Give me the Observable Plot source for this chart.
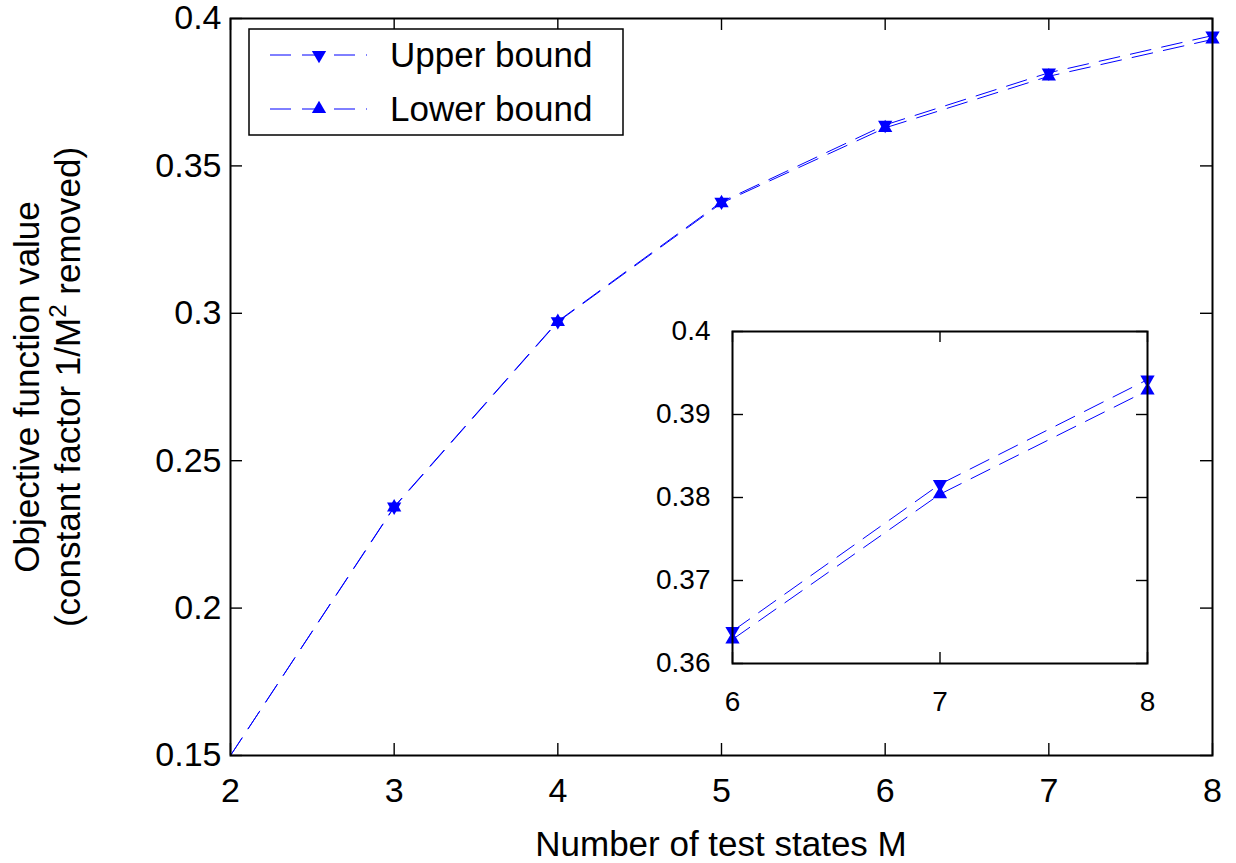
<!DOCTYPE html>
<html>
<head>
<meta charset="utf-8">
<script src="https://cdn.jsdelivr.net/npm/d3@7"></script>
<script src="https://cdn.jsdelivr.net/npm/@observablehq/plot@0.6"></script>
<style>
  html, body { margin: 0; padding: 0; background: #fff; }
  #chart { position: relative; width: 1236px; height: 863px; font-family: "Liberation Sans", Arial, Helvetica, sans-serif; }
  #chart svg { position: absolute; }
</style>
</head>
<body>
<div id="chart"></div>
<script>
// Number of test states
const M = [2, 3, 4, 5, 6, 7, 8];
// Objective function value bounds (constant factor 1/M^2 removed)
const upperBound = [0.15, 0.2344, 0.2973, 0.3378, 0.3639, 0.3816, 0.3942];
const lowerBound = [0.15, 0.2342, 0.2971, 0.3374, 0.3629, 0.3804, 0.3929];
const seriesNames = ["Upper bound", "Lower bound"];

// Main axes
const xTicks = [2, 3, 4, 5, 6, 7, 8];
const xTickLabels = ["2", "3", "4", "5", "6", "7", "8"];
const yTicks = [0.15, 0.2, 0.25, 0.3, 0.35, 0.4];
const yTickLabels = ["0.15", "0.2", "0.25", "0.3", "0.35", "0.4"];

// Zoomed inset axes
const insetXTicks = [6, 7, 8];
const insetXTickLabels = ["6", "7", "8"];
const insetYTicks = [0.36, 0.37, 0.38, 0.39, 0.4];
const insetYTickLabels = ["0.36", "0.37", "0.38", "0.39", "0.4"];

const xTitle = "Number of test states M";
const yTitleLine1 = "Objective function value";

const BLUE = "#0000ff";
const DASH = "21,11";
const FONT = '"Liberation Sans", Arial, Helvetica, sans-serif';

// Long-format rows for the line marks
const rows = [];
M.forEach((m, i) => {
  rows.push({M: m, v: upperBound[i], series: seriesNames[0]});
  rows.push({M: m, v: lowerBound[i], series: seriesNames[1]});
});

// Filled triangles centred on their centroid (down = upper bound, up = lower bound)
const SQRT3 = Math.sqrt(3);
const triangleDown = {
  draw(ctx, size) {
    const y = Math.sqrt(size / (3 * SQRT3));
    ctx.moveTo(0, 2 * y);
    ctx.lineTo(-SQRT3 * y, -y);
    ctx.lineTo(SQRT3 * y, -y);
    ctx.closePath();
  }
};
const triangleUp = {
  draw(ctx, size) {
    const y = Math.sqrt(size / (3 * SQRT3));
    ctx.moveTo(0, -2 * y);
    ctx.lineTo(SQRT3 * y, y);
    ctx.lineTo(-SQRT3 * y, y);
    ctx.closePath();
  }
};
const MARKER_R = 5.3;

function panel(cfg) {
  const {width, height, margin, xDomain, yDomain, xt, xl, yt, yl, fontSize, tickLen, padX, padY} = cfg;
  const fw = width - margin.left - margin.right;
  const fh = height - margin.top - margin.bottom;
  const inRange = d => d.M >= xDomain[0] && d.M <= xDomain[1];
  const lineRows = rows.filter(inRange);
  const markerRows = lineRows.filter(d => d.v > yDomain[0]);
  const tickStyle = {stroke: "black", strokeWidth: 1.4};
  return Plot.plot({
    width, height,
    marginTop: margin.top, marginRight: margin.right,
    marginBottom: margin.bottom, marginLeft: margin.left,
    style: {fontFamily: FONT, background: "white", overflow: "visible"},
    x: {domain: xDomain},
    y: {domain: yDomain},
    marks: [
      Plot.line(lineRows, {x: "M", y: "v", z: "series", stroke: BLUE, strokeWidth: 1, strokeDasharray: DASH, clip: true}),
      Plot.dot(markerRows.filter(d => d.series === seriesNames[0]), {x: "M", y: "v", r: MARKER_R, symbol: triangleDown, fill: BLUE, stroke: "none"}),
      Plot.dot(markerRows.filter(d => d.series === seriesNames[1]), {x: "M", y: "v", r: MARKER_R, symbol: triangleUp, fill: BLUE, stroke: "none"}),
      // inward ticks on all four sides
      Plot.tickX(xt, {x: d => d, insetTop: fh - tickLen, ...tickStyle}),
      Plot.tickX(xt, {x: d => d, insetBottom: fh - tickLen, ...tickStyle}),
      Plot.tickY(yt, {y: d => d, insetRight: fw - tickLen, ...tickStyle}),
      Plot.tickY(yt, {y: d => d, insetLeft: fw - tickLen, ...tickStyle}),
      Plot.axisX({ticks: xt, tickSize: 0, tickPadding: padX, tickFormat: d => xl[xt.indexOf(d)], fontSize, label: null}),
      Plot.axisY({ticks: yt, tickSize: 0, tickPadding: padY, tickFormat: d => yl[yt.indexOf(d)], fontSize, label: null}),
      Plot.frame({stroke: "black", strokeWidth: 2})
    ]
  });
}

const chart = document.getElementById("chart");

const main = panel({
  width: 1236, height: 863,
  margin: {top: 18, right: 24, bottom: 108, left: 230},
  xDomain: [2, 8], yDomain: [0.15, 0.4],
  xt: xTicks, xl: xTickLabels, yt: yTicks, yl: yTickLabels,
  fontSize: 34, tickLen: 12, padX: 22, padY: 9
});
main.style.left = "0px";
main.style.top = "0px";
chart.appendChild(main);

// Axis titles
const svg = d3.select(main);
svg.append("text")
  .attr("x", 721).attr("y", 856)
  .attr("text-anchor", "middle")
  .attr("font-size", 35).attr("font-family", FONT).attr("fill", "black")
  .text(xTitle);

const yTitle = svg.append("g").attr("transform", "rotate(-90)")
  .attr("font-size", 35).attr("font-family", FONT).attr("fill", "black")
  .attr("text-anchor", "middle");
yTitle.append("text").attr("x", -387).attr("y", 39).text(yTitleLine1);
const l2 = yTitle.append("text").attr("x", -387).attr("y", 80);
l2.append("tspan").text("(constant factor 1/M");
l2.append("tspan").attr("font-size", 24).attr("dy", -14).text("2");
l2.append("tspan").attr("dy", 14).text(" removed)");

// Legend box
const legend = svg.append("g").attr("text-anchor", "start");
legend.append("rect")
  .attr("x", 249).attr("y", 29).attr("width", 374).attr("height", 106)
  .attr("fill", "white").attr("stroke", "black").attr("stroke-width", 1.5);
const legendSymbols = [triangleDown, triangleUp];
const legendY = [55, 109];
seriesNames.forEach((name, i) => {
  const y = legendY[i];
  legend.append("line")
    .attr("x1", 270).attr("x2", 367).attr("y1", y).attr("y2", y)
    .attr("stroke", BLUE).attr("stroke-width", 1).attr("stroke-dasharray", DASH);
  legend.append("path")
    .attr("transform", `translate(319,${y})`)
    .attr("d", d3.symbol(legendSymbols[i], Math.PI * MARKER_R * MARKER_R)())
    .attr("fill", BLUE);
  legend.append("text")
    .attr("x", 390).attr("y", y + 12)
    .attr("text-anchor", "start")
    .attr("font-size", 35).attr("font-family", FONT).attr("fill", "black")
    .text(name);
});

// Inset zooming into M = 6..8
const inset = panel({
  width: 580, height: 430,
  margin: {top: 31, right: 33, bottom: 67, left: 132},
  xDomain: [6, 8], yDomain: [0.36, 0.4],
  xt: insetXTicks, xl: insetXTickLabels, yt: insetYTicks, yl: insetYTickLabels,
  fontSize: 28, tickLen: 11, padX: 28, padY: 22
});
inset.style.left = "600px";
inset.style.top = "300px";
inset.style.background = "transparent";
chart.appendChild(inset);
</script>
</body>
</html>
